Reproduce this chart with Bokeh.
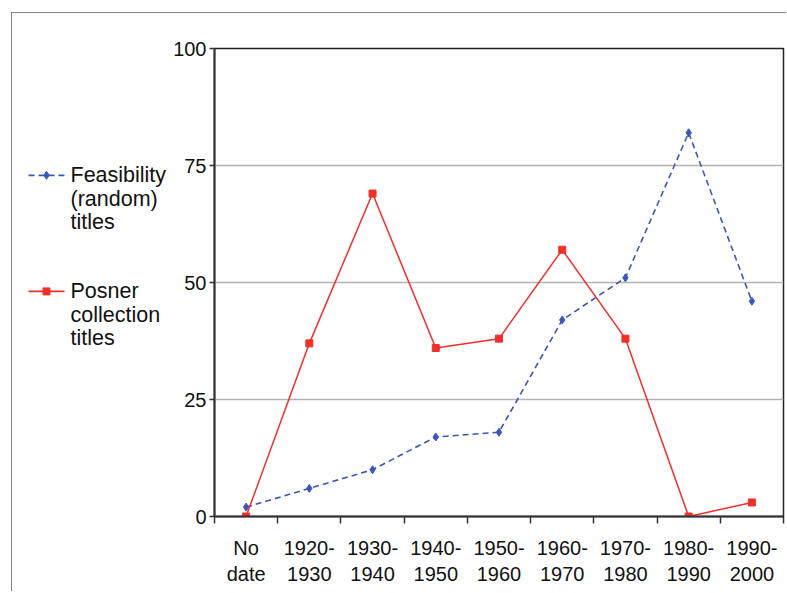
from bokeh.plotting import figure
from bokeh.layouts import row
from bokeh.models import FixedTicker, Range1d
from bokeh.core.properties import value
from bokeh.embed import file_html
from bokeh.resources import INLINE

categories = ["No\ndate", "1920-\n1930", "1930-\n1940", "1940-\n1950", "1950-\n1960",
              "1960-\n1970", "1970-\n1980", "1980-\n1990", "1990-\n2000"]
feasibility = [2, 6, 10, 17, 18, 42, 51, 82, 46]
posner = [0, 37, 69, 36, 38, 57, 38, 0, 3]
y_ticks = [0, 25, 50, 75, 100]
legend_feas = ["Feasibility", "(random)", "titles"]
legend_posner = ["Posner", "collection", "titles"]

BLUE = "#3a56b8"
RED = "#f0302a"
FONT = "Liberation Sans"
TXT = "#111111"

H = 578
xs = list(range(len(categories)))

# ---------------- main chart ----------------
p = figure(width=617, height=H, output_backend="svg", toolbar_location=None,
           x_range=Range1d(-0.5, len(categories) - 0.5), y_range=Range1d(0, 100),
           min_border_left=45, min_border_top=35, min_border_bottom=H - 35 - 468,
           min_border_right=3)
p.outline_line_color = "#222222"
p.outline_line_width = 1.5

p.xaxis.ticker = FixedTicker(ticks=xs, minor_ticks=[i - 0.5 for i in range(len(categories) + 1)])
p.xaxis.major_label_overrides = {i: c for i, c in enumerate(categories)}
p.xaxis.major_tick_out = 0
p.xaxis.major_tick_in = 0
p.xaxis.minor_tick_out = 7
p.xaxis.minor_tick_in = 0
p.xaxis.minor_tick_line_color = "#333333"
p.xaxis.minor_tick_line_width = 1.5
p.xaxis.major_label_standoff = 13
p.yaxis.ticker = FixedTicker(ticks=y_ticks)
p.yaxis.major_tick_out = 5
p.yaxis.major_tick_in = 0
p.yaxis.minor_tick_out = 0
p.yaxis.major_label_standoff = 3
for ax in (p.xaxis, p.yaxis):
    ax.axis_line_color = "#333333"
    ax.axis_line_width = 2
    ax.major_tick_line_color = "#333333"
    ax.major_tick_line_width = 1.5
    ax.major_label_text_font = FONT
    ax.major_label_text_font_size = "20px"
    ax.major_label_text_color = TXT

p.xgrid.visible = False
p.ygrid.grid_line_color = "#b4b4b4"
p.ygrid.grid_line_width = 1.5

p.line(xs, feasibility, line_color=BLUE, line_width=1.6, line_dash="6 4")
p.scatter(xs, feasibility, marker="diamond", size=8, fill_color=BLUE, line_color=BLUE)
p.line(xs, posner, line_color=RED, line_width=1.5)
p.scatter(xs, posner, marker="square", size=7, fill_color=RED, line_color=RED)

# ---------------- legend panel (shares the chart's vertical scale) ----------------
LW = 157
lg = figure(width=LW, height=H, output_backend="svg", toolbar_location=None,
            x_range=Range1d(0, LW), y_range=p.y_range,
            x_axis_type=None, y_axis_type=None, min_border=0)
lg.outline_line_color = None
lg.xgrid.visible = False
lg.ygrid.visible = False

STEP = 5.02  # one text line, in chart units
items = [(legend_feas, BLUE, "6 4", "diamond", 8, 72.9),
         (legend_posner, RED, "solid", "square", 7, 48.1)]
for lines, color, dash, marker, size, y0 in items:
    lg.line([16, 52], [y0, y0], line_color=color, line_width=1.6, line_dash=dash)
    lg.scatter([34], [y0], marker=marker, size=size, fill_color=color, line_color=color)
    lg.text([58] * len(lines), [y0 - STEP * i for i in range(len(lines))], text=lines,
            text_font=value(FONT), text_font_size="21.5px", text_color=TXT,
            text_baseline="middle", text_align="left")

layout = row(lg, p)
layout.margin = (12, 0, 0, 11)
layout.styles = {"border-left": "1px solid #808080", "border-top": "1px solid #808080"}

open("out.html", "w").write(file_html(layout, INLINE))
